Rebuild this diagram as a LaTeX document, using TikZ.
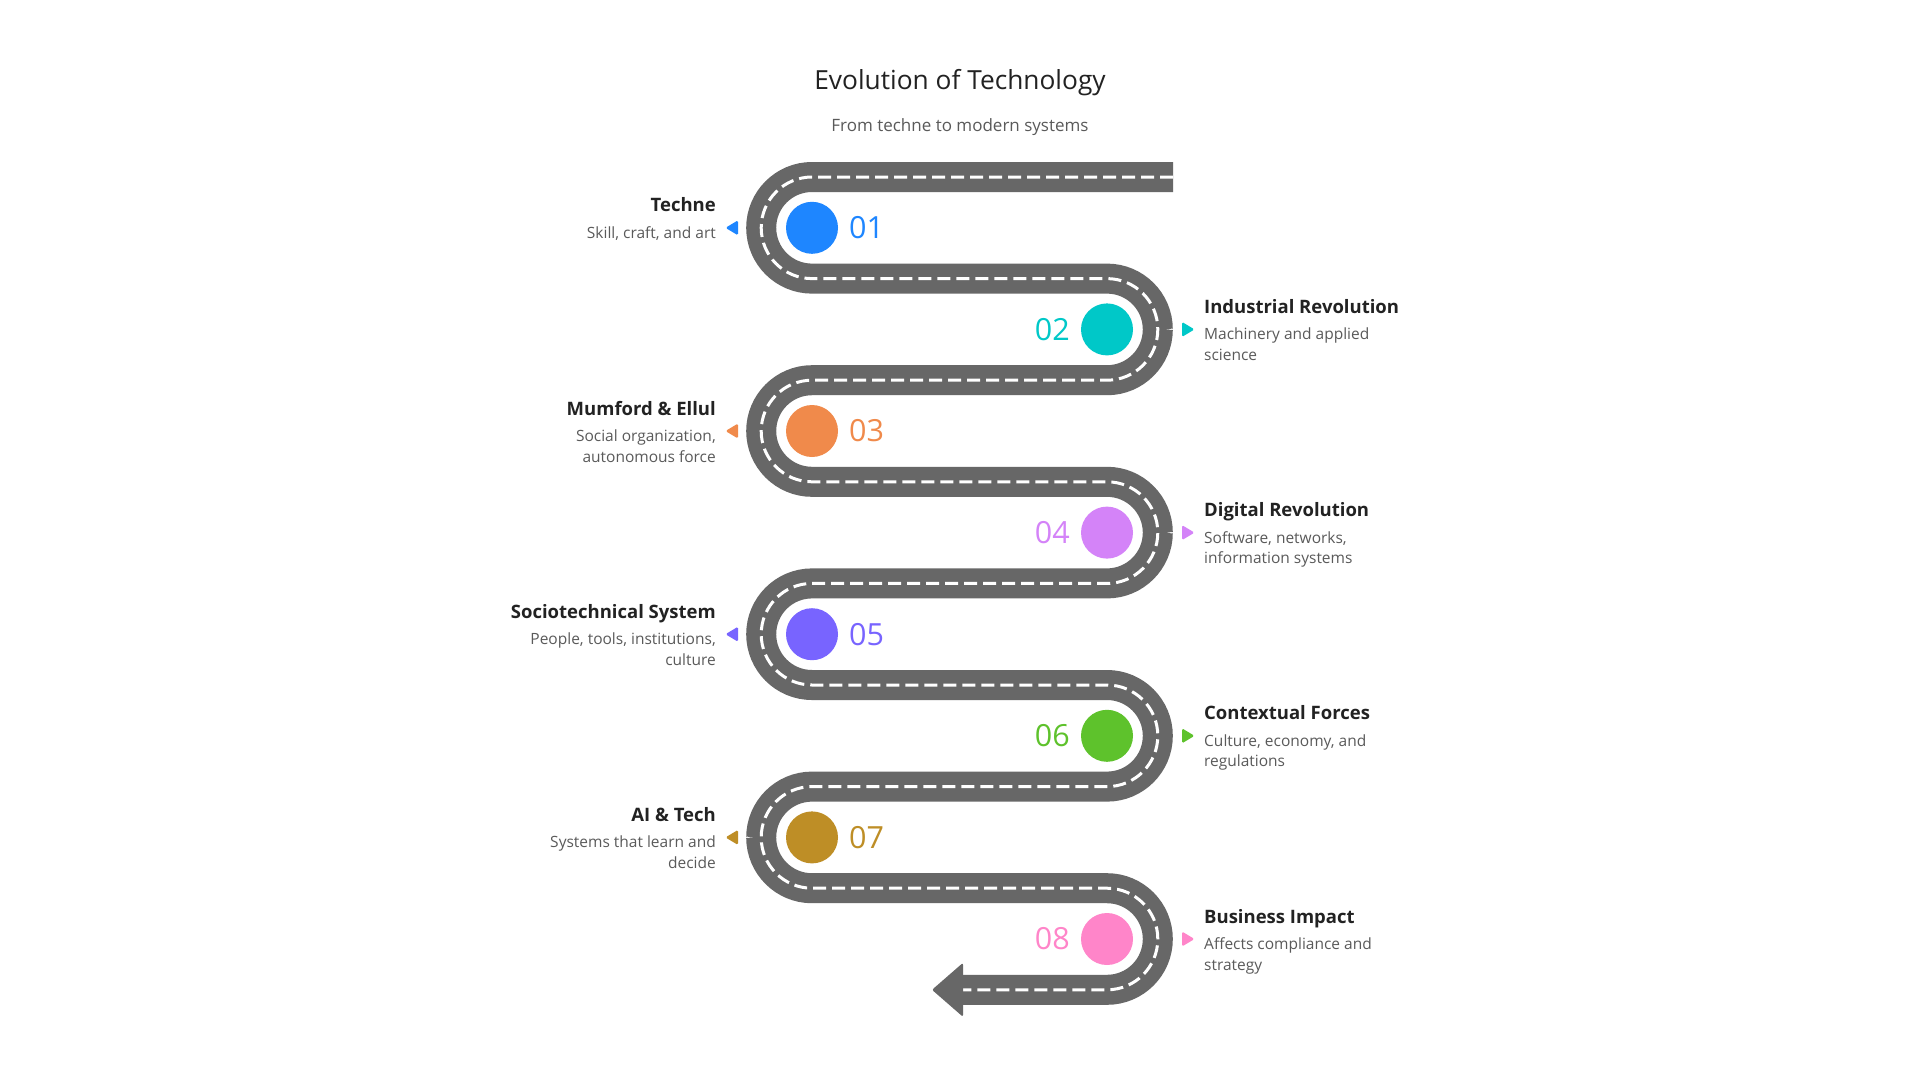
\documentclass[tikz,border=0pt]{standalone}
\usepackage{fontspec}
\setmainfont{Open Sans}
\usetikzlibrary{positioning}
\definecolor{roadgray}{HTML}{676767}
\definecolor{ink}{HTML}{222222}
\definecolor{sub}{HTML}{5A5A5A}
\definecolor{cA}{HTML}{1E86FF}
\definecolor{cB}{HTML}{00C8C8}
\definecolor{cC}{HTML}{F08A4B}
\definecolor{cD}{HTML}{D483F8}
\definecolor{cE}{HTML}{7864FF}
\definecolor{cF}{HTML}{5EC22C}
\definecolor{cG}{HTML}{BE8E26}
\definecolor{cH}{HTML}{FF85C9}

\begin{document}
\begin{tikzpicture}[x=1pt, y=-1pt,
  road/.style={line width=30pt, draw=roadgray, rounded corners=50.8pt},
  lane/.style={line width=3pt, draw=white, dash pattern=on 13pt off 6pt},
  dot/.style={circle, minimum size=52pt, inner sep=0pt, outer sep=0pt},
  num/.style={font=\fontsize{30.5}{34}\selectfont, inner sep=0pt},
  ttl/.style={font=\fontsize{18.5}{22}\selectfont\bfseries, text=ink, inner sep=0pt},
  dsc/.style={font=\fontsize{15.5}{20.6}\selectfont, text=sub, inner sep=0pt},
  tip/.style={rounded corners=1.5pt}]
  \fill[white] (0,0) rectangle (1920,1080);
  \useasboundingbox (0,0) rectangle (1920,1080);
  \node[font=\fontsize{26.3}{30}\selectfont, text=ink, anchor=base] (title) at (960,89.3) {Evolution of Technology};
  \node[font=\fontsize{17}{20}\selectfont, text=sub, anchor=base] (subtitle) at (960,131) {From techne to modern systems};
  % the road
  \draw[road, postaction={lane}] (1173,177) -- (761.2,177) -- (761.2,278.6) -- (1157.8,278.6)
    -- (1157.8,380.2) -- (761.2,380.2) -- (761.2,481.8) -- (1157.8,481.8)
    -- (1157.8,583.4) -- (761.2,583.4) -- (761.2,685) -- (1157.8,685)
    -- (1157.8,786.6) -- (761.2,786.6) -- (761.2,888.2) -- (1157.8,888.2)
    -- (1157.8,989.8) -- (962,989.8);
  \fill[roadgray, rounded corners=2pt] (963,962.8) -- (932,989.8) -- (963,1016.8) -- cycle;
  % stops (two-line texts are anchored on their last line)
  \node[dot, fill=cA] (d1) at (812,227.8) {};
  \node[num, text=cA, right=11pt of d1] (n1) {01};
  \fill[cA, tip] (738,220.3) -- (725.5,227.8) -- (738,235.3) -- cycle;
  \node[ttl, anchor=base east] (h1) at (716,211.8) {Techne};
  \node[dsc, anchor=base east, align=right] (s1) at (716,238.3) {Skill, craft, and art};
  \node[dot, fill=cB] (d2) at (1107,329.4) {};
  \node[num, text=cB, left=11pt of d2] (n2) {02};
  \fill[cB, tip] (1182,321.9) -- (1194.5,329.4) -- (1182,336.9) -- cycle;
  \node[ttl, anchor=base west] (h2) at (1204,313.4) {Industrial Revolution};
  \node[dsc, anchor=base west, align=left] (s2) at (1204,360.5) {Machinery and applied\\science};
  \node[dot, fill=cC] (d3) at (812,431) {};
  \node[num, text=cC, right=11pt of d3] (n3) {03};
  \fill[cC, tip] (738,423.5) -- (725.5,431) -- (738,438.5) -- cycle;
  \node[ttl, anchor=base east] (h3) at (716,415) {Mumford \& Ellul};
  \node[dsc, anchor=base east, align=right] (s3) at (716,462.1) {Social organization,\\autonomous force};
  \node[dot, fill=cD] (d4) at (1107,532.6) {};
  \node[num, text=cD, left=11pt of d4] (n4) {04};
  \fill[cD, tip] (1182,525.1) -- (1194.5,532.6) -- (1182,540.1) -- cycle;
  \node[ttl, anchor=base west] (h4) at (1204,516.6) {Digital Revolution};
  \node[dsc, anchor=base west, align=left] (s4) at (1204,563.7) {Software, networks,\\information systems};
  \node[dot, fill=cE] (d5) at (812,634.2) {};
  \node[num, text=cE, right=11pt of d5] (n5) {05};
  \fill[cE, tip] (738,626.7) -- (725.5,634.2) -- (738,641.7) -- cycle;
  \node[ttl, anchor=base east] (h5) at (716,618.2) {Sociotechnical System};
  \node[dsc, anchor=base east, align=right] (s5) at (716,665.3) {People, tools, institutions,\\culture};
  \node[dot, fill=cF] (d6) at (1107,735.8) {};
  \node[num, text=cF, left=11pt of d6] (n6) {06};
  \fill[cF, tip] (1182,728.3) -- (1194.5,735.8) -- (1182,743.3) -- cycle;
  \node[ttl, anchor=base west] (h6) at (1204,719.8) {Contextual Forces};
  \node[dsc, anchor=base west, align=left] (s6) at (1204,766.9) {Culture, economy, and\\regulations};
  \node[dot, fill=cG] (d7) at (812,837.4) {};
  \node[num, text=cG, right=11pt of d7] (n7) {07};
  \fill[cG, tip] (738,829.9) -- (725.5,837.4) -- (738,844.9) -- cycle;
  \node[ttl, anchor=base east] (h7) at (716,821.4) {AI \& Tech};
  \node[dsc, anchor=base east, align=right] (s7) at (716,868.5) {Systems that learn and\\decide};
  \node[dot, fill=cH] (d8) at (1107,939) {};
  \node[num, text=cH, left=11pt of d8] (n8) {08};
  \fill[cH, tip] (1182,931.5) -- (1194.5,939) -- (1182,946.5) -- cycle;
  \node[ttl, anchor=base west] (h8) at (1204,923) {Business Impact};
  \node[dsc, anchor=base west, align=left] (s8) at (1204,970.1) {Affects compliance and\\strategy};
\end{tikzpicture}
\end{document}
